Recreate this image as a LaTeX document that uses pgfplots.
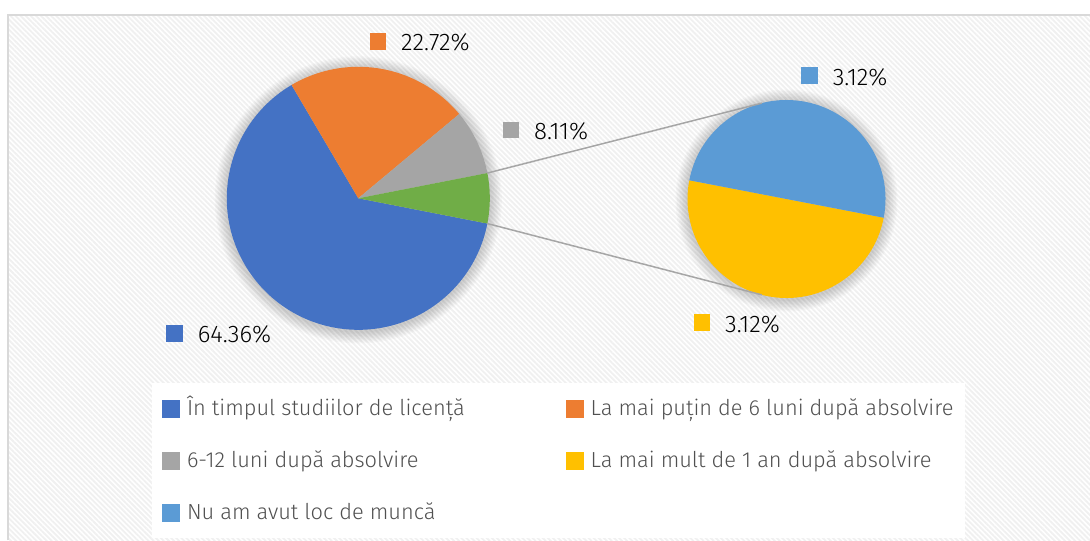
\documentclass[border=0pt]{standalone}
\usepackage{fontspec}
\setmainfont{Fira Sans}[UprightFont={* Light}]
\usepackage{pgfplots}
\pgfplotsset{compat=1.18}
\usepackage{pgfplotstable}
\usetikzlibrary{calc,patterns.meta}

\definecolor{pieblue}{HTML}{4472C4}
\definecolor{pieorange}{HTML}{ED7D31}
\definecolor{piegray}{HTML}{A5A5A5}
\definecolor{pieyellow}{HTML}{FFC000}
\definecolor{pielight}{HTML}{5B9BD5}
\definecolor{piegreen}{HTML}{70AD47}
\definecolor{legtext}{HTML}{505050}
\definecolor{labtext}{HTML}{000000}
\definecolor{frameline}{HTML}{D9D9D9}
\definecolor{linkline}{HTML}{A6A6A6}

% main pie (the rest goes to the second pie)
\pgfplotstableread{
share colour
64.36 pieblue
22.72 pieorange
8.11  piegray
}\firstpie
% second pie
\pgfplotstableread{
share colour
3.12 pieyellow
3.12 pielight
}\secondpie

\pgfplotsset{sq/.style={legend image code/.code={\fill[#1] (0pt,-4.2pt) rectangle (8.4pt,4.2pt);}}}

% geometry in pixels of the reference (y down), radii in pt
\def\cxA{358.3}\def\cyA{198.3}\def\rA{65.75pt}
\def\cxB{786.5}\def\cyB{199}\def\rB{49.5pt}
\def\startB{169.1}

\begin{document}
\begin{tikzpicture}
\begin{axis}[
    scale only axis,
    width=545pt, height=270pt,
    xmin=0, xmax=1090, ymin=0, ymax=540,
    y dir=reverse,
    axis lines=none, ticks=none,
    legend columns=2,
    legend cell align=left,
    legend style={at={(axis cs:152,383)}, anchor=north west,
        fill=white, draw=none, inner xsep=5pt, inner ysep=7pt,
        font=\fontsize{10.9}{13}\selectfont, text=legtext,
        nodes={inner sep=0pt, text height=9pt, text depth=2.5pt},
        row sep=14.5pt,
        /tikz/every odd column/.append style={column sep=3.5pt}},
]
% background
\fill[white] (axis cs:0,0) rectangle (axis cs:1090,540);
\fill[pattern={Lines[angle=-45,distance=1.8pt,line width=0.9pt]}, pattern color=black!6]
    (axis cs:7,15) rectangle (axis cs:1090,540);
\draw[frameline, line width=1pt] (axis cs:7.5,540) |- (axis cs:1090,15);

% soft shadows
\pgfplotsinvokeforeach{1,...,8}{
  \fill[black, opacity=0.025] (axis cs:\cxA,\cyA+1.5) circle[radius=\rA+#1*0.75pt];
  \fill[black, opacity=0.025] (axis cs:\cxB,\cyB+1.5) circle[radius=\rB+#1*0.75pt];
}

% totals
\gdef\othershare{0}
\pgfplotstableforeachcolumnelement{share}\of\secondpie\as\cell{%
  \pgfmathparse{\othershare+\cell}\xdef\othershare{\pgfmathresult}}
\gdef\total{\othershare}
\pgfplotstableforeachcolumnelement{share}\of\firstpie\as\cell{%
  \pgfmathparse{\total+\cell}\xdef\total{\pgfmathresult}}
\pgfmathsetmacro\half{\othershare/\total*180}
\xdef\half{\half}

% first pie: the split-off slice is centred at 0 deg, the others run clockwise
\pgfplotstablegetrowsof{\firstpie}\pgfmathtruncatemacro\nlast{\pgfplotsretval-1}
\pgfmathsetmacro\angA{-\half}
\pgfplotsforeachungrouped \i in {0,...,\nlast}{%
  \pgfplotstablegetelem{\i}{share}\of\firstpie \let\sliceval\pgfplotsretval
  \pgfplotstablegetelem{\i}{colour}\of\firstpie \let\slicecol\pgfplotsretval
  \pgfmathsetmacro\angB{\angA-\sliceval/\total*360}
  \edef\tmp{\noexpand\fill[\slicecol] (axis cs:\cxA,\cyA) -- ++(\angA:\rA)
    arc[start angle=\angA, end angle=\angB, radius=\rA] -- cycle;}
  \tmp
  \let\angA\angB
}
\edef\tmp{\noexpand\fill[piegreen] (axis cs:\cxA,\cyA) -- ++(-\half:\rA)
  arc[start angle=-\half, end angle=\half, radius=\rA] -- cycle;}
\tmp

% second pie
\pgfplotstablegetrowsof{\secondpie}\pgfmathtruncatemacro\nlast{\pgfplotsretval-1}
\let\angA\startB
\pgfplotsforeachungrouped \i in {0,...,\nlast}{%
  \pgfplotstablegetelem{\i}{share}\of\secondpie \let\sliceval\pgfplotsretval
  \pgfplotstablegetelem{\i}{colour}\of\secondpie \let\slicecol\pgfplotsretval
  \pgfmathsetmacro\angB{\angA+\sliceval/\othershare*360}
  \edef\tmp{\noexpand\fill[\slicecol] (axis cs:\cxB,\cyB) -- ++(\angA:\rB)
    arc[start angle=\angA, end angle=\angB, radius=\rB] -- cycle;}
  \tmp
  \let\angA\angB
}

% connector lines
\edef\tmp{\noexpand\draw[linkline, line width=0.75pt]
  ($(axis cs:\cxA,\cyA)+(\half:\rA)$) -- ($(axis cs:\cxB,\cyB)+(104.4:\rB)$);}
\tmp
\edef\tmp{\noexpand\draw[linkline, line width=0.75pt]
  ($(axis cs:\cxA,\cyA)+(-\half:\rA)$) -- ($(axis cs:\cxB,\cyB)+(-104.4:\rB)$);}
\tmp

% data labels
\tikzset{lab/.style={anchor=base west, inner sep=0pt, text=labtext,
    font=\fontsize{12}{14}\selectfont}}
\node[lab] at (axis cs:369.3,51) {\textcolor{pieorange}{\rule[0.5pt]{8.35pt}{8.35pt}}\hspace{7.35pt}22.72\%};
\node[lab] at (axis cs:502.3,139.3) {\textcolor{piegray}{\rule[0.5pt]{8.35pt}{8.35pt}}\hspace{7.35pt}8.11\%};
\node[lab] at (axis cs:801,85) {\textcolor{pielight}{\rule[0.5pt]{8.35pt}{8.35pt}}\hspace{7.35pt}3.12\%};
\node[lab] at (axis cs:693.3,332) {\textcolor{pieyellow}{\rule[0.5pt]{8.35pt}{8.35pt}}\hspace{7.35pt}3.12\%};
\node[lab] at (axis cs:166,342.7) {\textcolor{pieblue}{\rule[0.5pt]{8.35pt}{8.35pt}}\hspace{7.35pt}64.36\%};

% legend
\addlegendimage{sq=pieblue}\addlegendentry{\makebox[189.5pt][l]{În timpul studiilor de licență}}
\addlegendimage{sq=pieorange}\addlegendentry{\makebox[182pt][l]{La mai puțin de 6 luni după absolvire}}
\addlegendimage{sq=piegray}\addlegendentry{\makebox[189.5pt][l]{6-12 luni după absolvire}}
\addlegendimage{sq=pieyellow}\addlegendentry{\makebox[182pt][l]{La mai mult de 1 an după absolvire}}
\addlegendimage{sq=pielight}\addlegendentry{\makebox[189.5pt][l]{Nu am avut loc de muncă}}
\end{axis}
\end{tikzpicture}
\end{document}
